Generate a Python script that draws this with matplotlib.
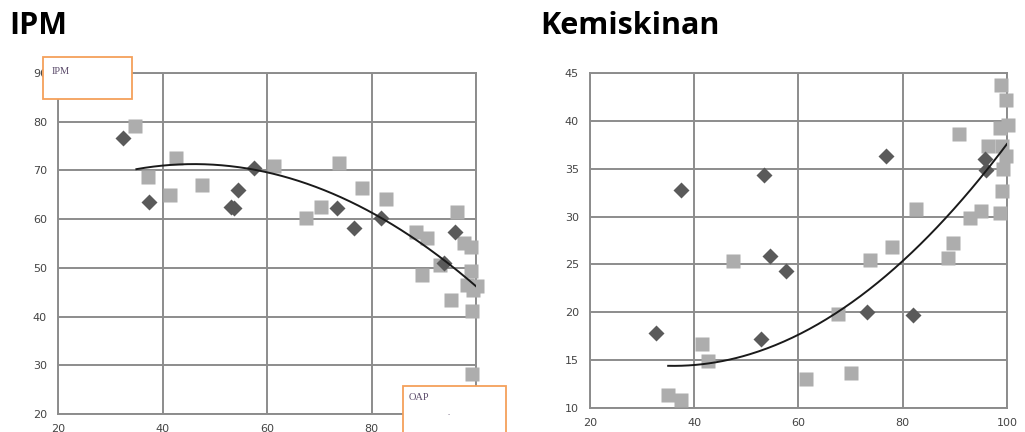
import numpy as np
import matplotlib.pyplot as plt
from matplotlib.patches import Rectangle

# IPM panel
ipm_dark_x = [32.5, 37.4, 53.1, 53.6, 54.5, 57.5, 73.3, 76.7, 81.8, 96.0, 93.9]
ipm_dark_y = [76.6, 63.5, 62.5, 62.2, 66.0, 70.6, 62.3, 58.2, 60.2, 57.3, 51.0]
ipm_light_x = [34.7, 37.2, 42.5, 41.5, 47.5, 61.3, 67.4, 70.3, 73.8, 78.1, 82.7, 88.6,
               90.7, 89.6, 93.1, 96.4, 95.2, 97.7, 99.1, 99.1, 98.2, 100.1, 99.4, 99.2, 99.2]
ipm_light_y = [79.2, 68.6, 72.5, 65.0, 67.1, 71.0, 60.2, 62.5, 71.6, 66.3, 64.1, 57.3,
               56.2, 48.6, 50.6, 61.4, 43.4, 55.0, 54.3, 49.3, 46.5, 46.2, 45.5, 41.2, 28.2]
# trend line (quadratic, vertex form): peak x, peak y, curvature, x range
ipm_trend = [46.0, 71.3, -0.0086, 35.0, 100.0]

# Kemiskinan panel
kem_dark_x = [32.6, 37.4, 52.9, 53.4, 54.6, 57.6, 73.2, 76.7, 81.9, 95.7, 96.0]
kem_dark_y = [17.8, 32.8, 17.2, 34.3, 25.9, 24.3, 20.0, 36.3, 19.7, 36.0, 34.9]
kem_light_x = [35.0, 37.4, 41.4, 42.6, 47.5, 61.4, 67.6, 70.0, 73.8, 78.0, 82.6, 88.7, 89.6,
               90.8, 93.0, 95.1, 96.4, 98.9, 99.9, 98.6, 100.2, 99.0, 99.9, 99.3, 99.0, 98.6]
kem_light_y = [11.4, 10.8, 16.7, 14.9, 25.4, 13.0, 19.8, 13.7, 25.5, 26.8, 30.8, 25.7, 27.2,
               38.6, 29.9, 30.6, 37.4, 43.7, 42.2, 39.3, 39.6, 37.4, 36.3, 35.0, 32.7, 30.4]
kem_trend = [36.0, 14.4, 0.00566, 35.0, 100.0]

dark = '#5a5a5a'
light = '#adadad'
grid_c = '#8c8c8c'
orange = '#f5a05a'

fig = plt.figure(figsize=(10.25, 4.32), dpi=100)
fig.patch.set_facecolor('white')

ax1 = fig.add_axes([0.0566, 0.0417, 0.4078, 0.7893])
ax2 = fig.add_axes([0.5756, 0.0556, 0.4068, 0.7754])


def trend(ax, t):
    x0, y0, k, xa, xb = t
    xx = np.linspace(xa, xb, 200)
    ax.plot(xx, y0 + k * (xx - x0) ** 2, color='#1a1a1a', lw=1.4, zorder=4)


def style(ax, ylim, ystep):
    ax.set_xlim(20, 100)
    ax.set_ylim(*ylim)
    ax.set_xticks(np.arange(20, 101, 20))
    ax.set_yticks(np.arange(ylim[0], ylim[1] + 0.1, ystep))
    ax.grid(True, color=grid_c, lw=1.4)
    ax.set_axisbelow(True)
    for s in ax.spines.values():
        s.set_color(grid_c)
        s.set_linewidth(1.4)
    ax.tick_params(length=0, labelsize=8, labelcolor='#444444')
    ax.tick_params(axis='y', pad=8)
    ax.tick_params(axis='x', pad=7)


for ax, dx, dy, lx, ly, t in [(ax1, ipm_dark_x, ipm_dark_y, ipm_light_x, ipm_light_y, ipm_trend),
                              (ax2, kem_dark_x, kem_dark_y, kem_light_x, kem_light_y, kem_trend)]:
    ax.plot(lx, ly, 's', color=light, ms=9.5, mec='none', clip_on=False, zorder=3)
    ax.plot(dx, dy, 'D', color=dark, ms=8, mec='none', clip_on=False, zorder=3)
    trend(ax, t)

style(ax1, (20, 90), 10)
style(ax2, (10, 45), 5)

fig.text(0.009, 0.94, 'IPM', fontsize=22, fontweight='bold', family='Open Sans', va='center')
fig.text(0.527, 0.94, 'Kemiskinan', fontsize=22, fontweight='bold', family='Open Sans', va='center')

# orange label boxes
fig.add_artist(Rectangle((43 / 1025, 1 - 99 / 432), 89 / 1025, 42 / 432, transform=fig.transFigure,
                         facecolor='white', edgecolor=orange, lw=1.3, zorder=10))
fig.text(52 / 1025, 1 - 72 / 432, 'IPM', family='Liberation Serif', fontsize=7.5,
         color='#5a4a6a', va='center', zorder=11)
fig.add_artist(Rectangle((403 / 1025, -0.05), 103 / 1025, 46 / 432 + 0.05, transform=fig.transFigure,
                         facecolor='white', edgecolor=orange, lw=1.3, zorder=10))
fig.text(409 / 1025, 1 - 398 / 432, 'OAP', family='Liberation Serif', fontsize=7.5,
         color='#5a4a6a', va='center', zorder=11)
fig.text(447 / 1025, 1 - 413 / 432, '.', family='Liberation Serif', fontsize=6,
         color='#5a4a6a', va='center', zorder=11)

fig.savefig('out.png', dpi=100)
